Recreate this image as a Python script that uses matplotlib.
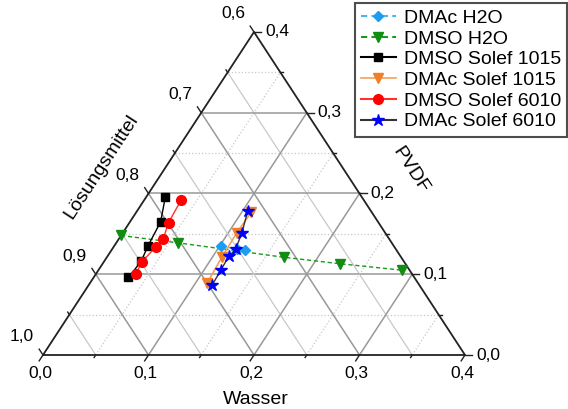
import matplotlib.pyplot as plt
from matplotlib.lines import Line2D

plt.rcParams['font.family'] = ['Liberation Sans', 'DejaVu Sans']

# Massenanteile (Wasser, PVDF); Lösungsmittel = 1 - Wasser - PVDF
dmac_h2o_wasser = [0.101, 0.118, 0.126]
dmac_h2o_pvdf = [0.135, 0.131, 0.130]

dmso_h2o_wasser = [0.000, 0.058, 0.168, 0.225, 0.288]
dmso_h2o_pvdf = [0.148, 0.139, 0.121, 0.113, 0.105]

dmso_1015_wasser = [0.018, 0.029, 0.032, 0.035, 0.033]
dmso_1015_pvdf = [0.196, 0.165, 0.135, 0.116, 0.096]

dmac_1015_wasser = [0.109, 0.108, 0.109, 0.111]
dmac_1015_pvdf = [0.177, 0.151, 0.121, 0.089]

dmso_6010_wasser = [0.035, 0.037, 0.042, 0.040, 0.036, 0.038]
dmso_6010_pvdf = [0.192, 0.164, 0.144, 0.134, 0.115, 0.100]

dmac_6010_wasser = [0.105, 0.113, 0.117, 0.115, 0.116, 0.117]
dmac_6010_pvdf = [0.178, 0.151, 0.131, 0.122, 0.105, 0.087]

tick_werte = [0.0, 0.1, 0.2, 0.3, 0.4]
wasser_labels = ['0,0', '0,1', '0,2', '0,3', '0,4']
pvdf_labels = ['0,0', '0,1', '0,2', '0,3', '0,4']
lm_labels = ['1,0', '0,9', '0,8', '0,7', '0,6']

BEREICH = 0.4  # Ausschnitt: Wasser 0-0.4, PVDF 0-0.4, Lösungsmittel 0.6-1.0


def xy(wasser, pvdf):
    # ternaere Koordinaten -> kartesisch (Dreieck mit Ecken (0,0), (1,0), (0.5,1))
    x = [(w + p / 2) / BEREICH for w, p in zip(wasser, pvdf)]
    y = [p / BEREICH for p in pvdf]
    return x, y


fig = plt.figure(figsize=(5.68, 4.09), dpi=100)
W, H = 568, 409
ax = fig.add_axes([43 / W, 1 - 355 / H, 422 / W, 323 / H])
ax.set_xlim(0, 1)
ax.set_ylim(0, 1)
ax.axis('off')

# Gitter
for k in range(1, 8):
    t = k / 8
    major = k % 2 == 0
    farbe = '#999999' if major else '#c8c8c8'
    ls = '-' if major else ':'
    lw = 1.1 if major else 0.9
    # PVDF konstant (waagerecht)
    ax.plot([t / 2, 1 - t / 2], [t, t], color=farbe, ls=ls, lw=lw, zorder=1)
    # Wasser konstant
    ax.plot([t, t + (1 - t) / 2], [0, 1 - t], color=farbe, ls=ls, lw=lw, zorder=1)
    # Lösungsmittel konstant
    ax.plot([(1 - t) / 2, 1 - t], [1 - t, 0], color=farbe, ls='-', lw=lw, zorder=1)

# Dreieck
ax.plot([0, 1, 0.5, 0], [0, 0, 1, 0], color='#222222', lw=1.3, zorder=2, clip_on=False)

# Ticks (Laenge in Pixel)
lang, kurz = 7, 3
for k in range(9):
    t = k / 8
    L = lang if k % 2 == 0 else kurz
    # unten (Wasser): Richtung nach links unten
    ax.plot([t, t - 0.5 * L / 386], [0, -L / 386], color='#222222', lw=1, clip_on=False)
    # rechts (PVDF): waagerecht nach rechts
    px = 1 - t / 2
    ax.plot([px, px + L / 422], [t, t], color='#222222', lw=1, clip_on=False)
    # links (Lösungsmittel): nach links oben
    lx, ly = t / 2, t
    ax.plot([lx, lx - 0.5 * L / 386], [ly, ly + L / 386], color='#222222', lw=1, clip_on=False)

for i, v in enumerate(tick_werte):
    t = v / BEREICH
    ax.annotate(wasser_labels[i], (t, 0), xytext=(-2, -13), textcoords='offset points',
                ha='center', va='center', fontsize=12.5)
    ax.annotate(pvdf_labels[i], (1 - t / 2, t), xytext=(8, 0), textcoords='offset points',
                ha='left', va='center', fontsize=12.5)
    ax.annotate(lm_labels[i], (t / 2, t), xytext=(-15, 13), textcoords='offset points',
                ha='center', va='center', fontsize=12.5)

# Achsentitel
fig.text(256 / W, 1 - 399 / H, 'Wasser', ha='center', va='center', fontsize=14)
fig.text(410 / W, 1 - 170 / H, 'PVDF', ha='center', va='center', fontsize=14, rotation=-56.8)
fig.text(101 / W, 1 - 167 / H, 'Lösungsmittel', ha='center', va='center', fontsize=14,
         rotation=56.8)

# Messreihen
x, y = xy(dmac_h2o_wasser, dmac_h2o_pvdf)
ax.plot(x, y, color='#4db3f5', ls=(0, (3, 2)), lw=1, marker='D', ms=5.5,
        mfc='#1e9cf0', mec='#1e9cf0', zorder=4, clip_on=False)
x, y = xy(dmso_h2o_wasser, dmso_h2o_pvdf)
ax.plot(x, y, color='#1a9a1a', ls=(0, (3, 2)), lw=1, marker='v', ms=7,
        mfc='#128c12', mec='#128c12', zorder=3, clip_on=False)
x, y = xy(dmso_1015_wasser, dmso_1015_pvdf)
ax.plot(x, y, color='black', lw=1, marker='s', ms=6, zorder=5, clip_on=False)
x, y = xy(dmac_1015_wasser, dmac_1015_pvdf)
ax.plot(x, y, color='#f5a05a', lw=1.2, marker='v', ms=7.5, mfc='#f07f2a', mec='#f07f2a',
        zorder=5, clip_on=False)
x, y = xy(dmso_6010_wasser, dmso_6010_pvdf)
ax.plot(x, y, color='#ff3030', lw=1, marker='o', ms=7, mfc='#ff0000', mec='#ff0000',
        zorder=6, clip_on=False)
x, y = xy(dmac_6010_wasser, dmac_6010_pvdf)
ax.plot(x, y, color='#333333', lw=1, marker='*', ms=9, mfc='#0000ff', mec='#0000ff',
        zorder=6, clip_on=False)

# Legende
handles = [
    Line2D([], [], color='#4db3f5', ls=(0, (3, 2)), marker='D', ms=5.5, mfc='#1e9cf0', mec='#1e9cf0'),
    Line2D([], [], color='#1a9a1a', ls=(0, (3, 2)), marker='v', ms=7, mfc='#128c12', mec='#128c12'),
    Line2D([], [], color='black', marker='s', ms=6),
    Line2D([], [], color='#f5a05a', lw=1.2, marker='v', ms=7.5, mfc='#f07f2a', mec='#f07f2a'),
    Line2D([], [], color='#ff3030', marker='o', ms=7, mfc='#ff0000', mec='#ff0000'),
    Line2D([], [], color='#333333', marker='*', ms=9, mfc='#0000ff', mec='#0000ff'),
]
namen = ['DMAc H2O', 'DMSO H2O', 'DMSO Solef 1015', 'DMAc Solef 1015',
         'DMSO Solef 6010', 'DMAc Solef 6010']
leg = fig.legend(handles, namen, loc='upper right', bbox_to_anchor=(567 / W, 1 - 3 / H),
                 fontsize=14, frameon=True, fancybox=False, handlelength=1.8,
                 handletextpad=0.4, labelspacing=0.16, borderpad=0.32, borderaxespad=0)
leg.get_frame().set_edgecolor('#222222')
leg.get_frame().set_linewidth(1.5)

fig.savefig('out.png', dpi=100)
